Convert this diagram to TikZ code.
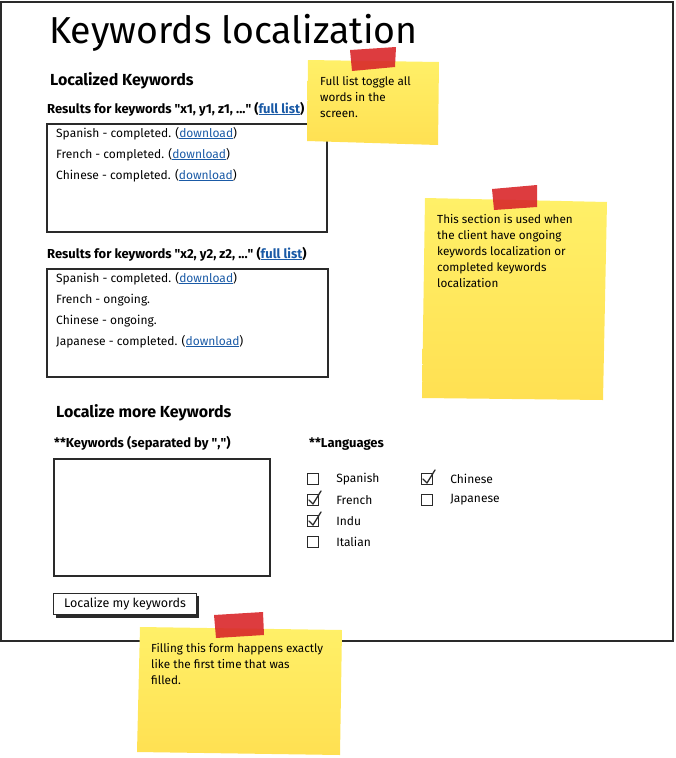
\documentclass[tikz,border=0pt]{standalone}
\usepackage{fontspec}
\setmainfont{Fira Sans}
\usepackage{xcolor}
\usetikzlibrary{positioning}

\definecolor{ink}{HTML}{2A2A2A}
\definecolor{linkblue}{HTML}{1A5AA6}
\definecolor{notelight}{HTML}{FFF068}
\definecolor{notedark}{HTML}{FFE052}
\definecolor{tapered}{HTML}{D9272A}
\newcommand{\lnk}[1]{\textcolor{linkblue}{\underline{#1}}}
\newcommand{\dq}{\textquotedbl}

\tikzset{
    panel/.style={draw=ink, line width=1.8pt},
    listbox/.style={draw=ink, line width=1.6pt, anchor=north west, inner sep=0pt},
    txt/.style={anchor=base west, inner sep=0pt, font=\fontsize{12}{14}\selectfont},
    head/.style={txt, font=\bfseries\fontsize{16}{18}\selectfont},
    sub/.style={txt, font=\bfseries\fontsize{13}{15}\selectfont},
    notetxt/.style={anchor=north west, inner sep=0pt, align=left, font=\fontsize{11.7}{16}\selectfont},
    chk/.style={draw=ink, line width=1.1pt, minimum width=11pt, minimum height=11pt, inner sep=0pt},
    tick/.style={draw=ink, line width=1.3pt, line cap=round, line join=round},
}

\begin{document}
\begin{tikzpicture}[x=1pt, y=-1pt]
    \useasboundingbox (0,0) rectangle (676,758);

    % Outer screen frame
    \draw[panel] (1,2) rectangle (673,641);

    % Title
    \node[txt, font=\fontsize{37.5}{40}\selectfont] (title) at (49,43) {Keywords localization};

    % Localized keywords section
    \node[head] (loc) at (50,85) {Localized Keywords};
    \node[sub] (res1) at (47,113) {Results for keywords \dq x1, y1, z1, ...\dq\ (\lnk{full list})};
    \node[listbox, minimum width=280pt, minimum height=108pt] (box1) at (46,123) {};
    \node[txt] (es1) at (56,137) {Spanish - completed. (\lnk{download})};
    \node[txt] (fr1) at (56,158) {French - completed. (\lnk{download})};
    \node[txt] (zh1) at (56,179) {Chinese - completed. (\lnk{download})};

    \node[sub] (res2) at (47,258) {Results for keywords \dq x2, y2, z2, ...\dq\ (\lnk{full list})};
    \node[listbox, minimum width=281pt, minimum height=108pt] (box2) at (46,268) {};
    \node[txt] (es2) at (56,282) {Spanish - completed. (\lnk{download})};
    \node[txt] (fr2) at (56,303) {French - ongoing.};
    \node[txt] (zh2) at (56,324) {Chinese - ongoing.};
    \node[txt] (ja2) at (56,345) {Japanese - completed. (\lnk{download})};

    % Localize more keywords form
    \node[head] (more) at (56,417) {Localize more Keywords};
    \node[sub] (kwlbl) at (54,447) {**Keywords (separated by \dq,\dq)};
    \node[sub] (langlbl) at (309,447) {**Languages};
    \node[listbox, minimum width=216pt, minimum height=117pt] (kwarea) at (53,458) {};

    % Language checkboxes
    \foreach \name/\x/\y/\on in {Spanish/313/479/0, French/313/500/1, Indu/313/521/1, Italian/313/542/0,
                                 Chinese/427/479/1, Japanese/427/500/0} {
        \node[chk] (cb-\name) at (\x,\y) {};
        \node[txt, right=17pt of cb-\name.east, anchor=west] (lb-\name) {\name};
        \ifnum\on=1
            \draw[tick] ([shift={(2,0)}]cb-\name.west) -- ([shift={(0,4)}]cb-\name.center) -- ([shift={(2,-3)}]cb-\name.north east);
        \fi
    }

    % Submit button with shadow
    \fill[ink] (56,596) rectangle (199,618);
    \node[listbox, fill=white, line width=1.2pt, minimum width=143pt, minimum height=21pt, font=\fontsize{12.5}{14}\selectfont] (btn) at (53,593) {Localize my keywords};

    % Sticky note: full list
    \shade[top color=notelight, bottom color=notedark] (308,60) -- (439,62) -- (438,145) -- (307,141) -- cycle;
    \fill[tapered, opacity=.9] (350,50) -- (396,47) -- (395,67) -- (352,71) -- cycle;
    \node[notetxt] (note1) at (320,76) {Full list toggle all\\words in the\\screen.};

    % Sticky note: section usage
    \shade[top color=notelight, bottom color=notedark] (425,198) -- (607,202) -- (603,400) -- (422,398) -- cycle;
    \fill[tapered, opacity=.9] (492,189) -- (537,185) -- (537,207) -- (494,210) -- cycle;
    \node[notetxt] (note2) at (437,214) {This section is used when\\the client have ongoing\\keywords localization or\\completed keywords\\localization};

    % Sticky note: form
    \shade[top color=notelight, bottom color=notedark] (140,627) -- (342,630) -- (340,755) -- (137,752) -- cycle;
    \fill[tapered, opacity=.9] (214,615) -- (263,612) -- (264,635) -- (216,638) -- cycle;
    \node[notetxt] (note3) at (151,643) {Filling this form happens exactly\\like the first time that was\\filled.};
\end{tikzpicture}
\end{document}
